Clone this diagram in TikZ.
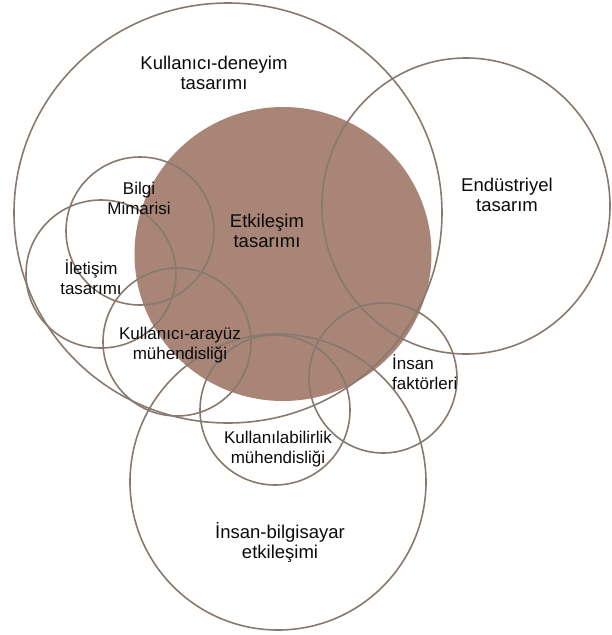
\documentclass[tikz,border=0pt]{standalone}
\usepackage{fontspec}
\setmainfont{Liberation Sans}
\usetikzlibrary{shapes.geometric}
\definecolor{ringc}{RGB}{136,121,111}
\definecolor{corec}{RGB}{168,133,118}
\definecolor{txtc}{RGB}{10,10,10}
\begin{document}
\begin{tikzpicture}[x=1pt,y=-1pt,
  ring/.style={draw=ringc, line width=1.6pt, ellipse, inner sep=0pt},
  lbl/.style={align=center, inner sep=0pt, text=txtc, font=\fontsize{17}{20}\selectfont},
  biglbl/.style={lbl, font=\fontsize{18.5}{20}\selectfont}]
\useasboundingbox (0,0) rectangle (611,635);
% filled core
\node[ellipse, fill=corec, inner sep=0pt, minimum width=297pt, minimum height=294pt] (ixd) at (283,254) {};
% rings
\node[ring, minimum width=428pt, minimum height=420pt] (ux) at (228,213) {};
\node[ring, minimum width=288pt, minimum height=296pt] (ind) at (466,206) {};
\node[ring, minimum width=148pt, minimum height=148pt] (ia) at (140,231) {};
\node[ring, minimum width=150pt, minimum height=148pt] (com) at (101,274) {};
\node[ring, minimum width=148pt, minimum height=148pt] (uie) at (177,342) {};
\node[ring, minimum width=148pt, minimum height=150pt] (hf) at (383,378) {};
\node[ring, minimum width=150pt, minimum height=150pt] (use) at (275,410) {};
\node[ring, minimum width=296pt, minimum height=296pt] (hci) at (278,482) {};
% labels
\node[biglbl] (tux) at (214,73) {Kullanıcı-deneyim\\tasarımı};
\node[biglbl] (tixd) at (267,231) {Etkileşim\\tasarımı};
\node[biglbl] (tind) at (507,195) {Endüstriyel\\tasarım};
\node[lbl] (tia) at (139,198) {Bilgi\\Mimarisi};
\node[lbl] (tcom) at (91,277) {İletişim\\tasarımı};
\node[lbl] (tuie) at (180,345) {Kullanıcı-arayüz\\mühendisliği};
\node[lbl, align=left, anchor=west] (thf) at (392,372) {İnsan\\faktörleri};
\node[lbl] (tuse) at (278,449) {Kullanılabilirlik\\mühendisliği};
\node[biglbl] (thci) at (280,542) {İnsan-bilgisayar\\etkileşimi};
\end{tikzpicture}
\end{document}
